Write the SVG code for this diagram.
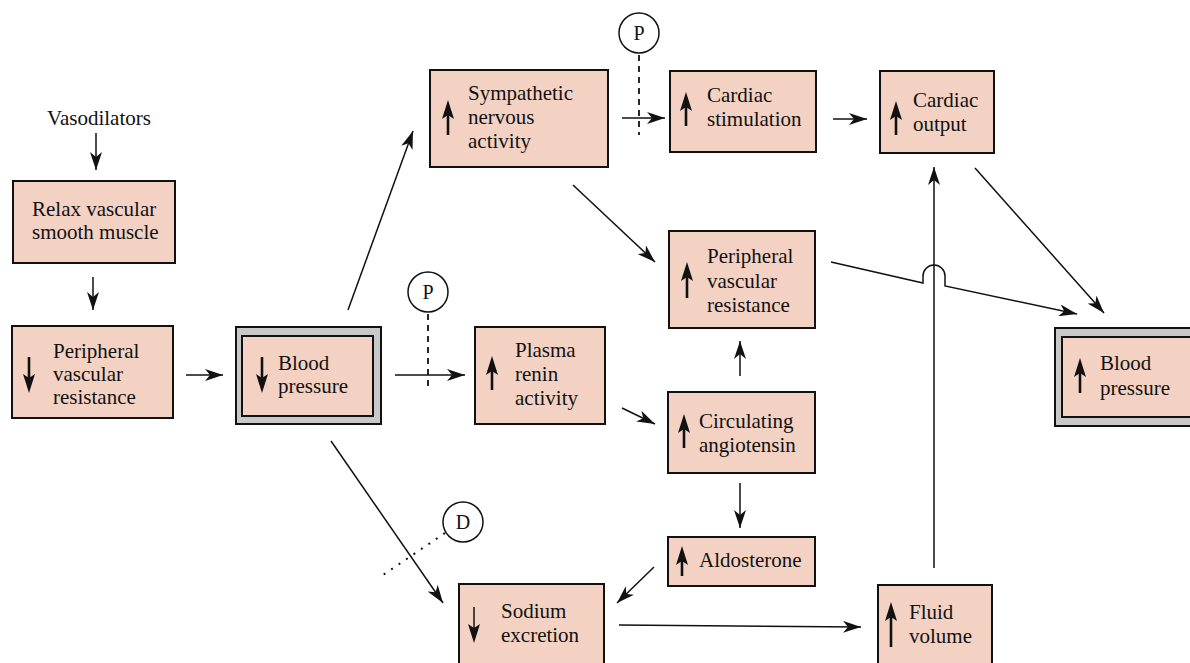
<svg xmlns="http://www.w3.org/2000/svg" width="1190" height="663" viewBox="0 0 1190 663" font-family="'Liberation Serif', 'DejaVu Serif', serif">
<style>
text{font-family:'Liberation Serif','DejaVu Serif',serif;font-size:21px;fill:#111}
.box{fill:#f3d2c4;stroke:#111;stroke-width:2}
.gray{fill:#c8c8c8;stroke:#111;stroke-width:2}
.con{fill:none;stroke:#111;stroke-width:1.5}
.ind{fill:none;stroke:#111;stroke-width:2.6}
.indh{fill:#111;stroke:none}
.circ{fill:#fff;stroke:#111;stroke-width:1.5}
.dash{fill:none;stroke:#111;stroke-width:1.8;stroke-dasharray:6,5}
.dot{fill:none;stroke:#111;stroke-width:2;stroke-dasharray:2,7}
.lbl{text-anchor:middle;font-size:20px}
</style>
<defs>
<marker id="ah" markerWidth="20" markerHeight="12" refX="18" refY="6" orient="auto" markerUnits="userSpaceOnUse">
<path d="M0,0 L18,6 L0,12 L5,6 z" fill="#111"/>
</marker>
</defs>
<rect width="1190" height="663" fill="#fff"/>

<g id="vasodilators"><text x="99" y="125" text-anchor="middle">Vasodilators</text></g>

<g id="relax">
<rect class="box" x="13" y="181" width="162" height="82"/>
<text x="32" y="216">Relax vascular</text>
<text x="32" y="239">smooth muscle</text>
</g>

<g id="pvr-left">
<rect class="box" x="12" y="326" width="161" height="92"/>
<path class="ind" d="M29,357 V378"/><path class="indh" d="M29,393 l-6,-19 l6,4 l6,-4 z"/>
<text x="53" y="358">Peripheral</text>
<text x="53" y="381">vascular</text>
<text x="53" y="404">resistance</text>
</g>

<g id="bp-left">
<rect class="gray" x="236" y="327" width="145" height="97"/>
<rect class="box" x="242" y="336" width="131" height="80"/>
<path class="ind" d="M262,357 V378"/><path class="indh" d="M262,393 l-6,-19 l6,4 l6,-4 z"/>
<text x="278" y="370">Blood</text>
<text x="278" y="393">pressure</text>
</g>

<g id="sympathetic">
<rect class="box" x="430" y="70" width="178" height="97"/>
<path class="ind" d="M448,135 V114"/><path class="indh" d="M448,100 l-6,19 l6,-4 l6,4 z"/>
<text x="468" y="100">Sympathetic</text>
<text x="468" y="124">nervous</text>
<text x="468" y="148">activity</text>
</g>

<g id="cardiac-stimulation">
<rect class="box" x="670" y="71" width="146" height="81"/>
<path class="ind" d="M686,126 V106"/><path class="indh" d="M686,92 l-6,19 l6,-4 l6,4 z"/>
<text x="707" y="102">Cardiac</text>
<text x="707" y="126">stimulation</text>
</g>

<g id="cardiac-output">
<rect class="box" x="880" y="71" width="114" height="82"/>
<path class="ind" d="M896,135 V115"/><path class="indh" d="M896,101 l-6,19 l6,-4 l6,4 z"/>
<text x="913" y="107">Cardiac</text>
<text x="913" y="131">output</text>
</g>

<g id="pvr-right">
<rect class="box" x="669" y="231" width="146" height="97"/>
<path class="ind" d="M687,298 V276"/><path class="indh" d="M687,262 l-6,19 l6,-4 l6,4 z"/>
<text x="707" y="263">Peripheral</text>
<text x="707" y="288">vascular</text>
<text x="707" y="312">resistance</text>
</g>

<g id="plasma-renin">
<rect class="box" x="475" y="327" width="130" height="97"/>
<path class="ind" d="M492,390 V370"/><path class="indh" d="M492,356 l-6,19 l6,-4 l6,4 z"/>
<text x="515" y="357">Plasma</text>
<text x="515" y="381">renin</text>
<text x="515" y="405">activity</text>
</g>

<g id="angiotensin">
<rect class="box" x="668" y="392" width="147" height="81"/>
<path class="ind" d="M684,448 V428"/><path class="indh" d="M684,414 l-6,19 l6,-4 l6,4 z"/>
<text x="699" y="428">Circulating</text>
<text x="699" y="452">angiotensin</text>
</g>

<g id="aldosterone">
<rect class="box" x="668" y="537" width="147" height="49"/>
<path class="ind" d="M682,576 V560"/><path class="indh" d="M682,546 l-6,19 l6,-4 l6,4 z"/>
<text x="699" y="567">Aldosterone</text>
</g>

<g id="sodium">
<rect class="box" x="459" y="584" width="145" height="90"/>
<path class="con" d="M474,607 V628"/><path class="indh" d="M474,643 l-6,-19 l6,4 l6,-4 z"/>
<text x="501" y="618">Sodium</text>
<text x="501" y="642">excretion</text>
</g>

<g id="fluid">
<rect class="box" x="878" y="585" width="114" height="90"/>
<path class="ind" d="M891,647 V616"/><path class="indh" d="M891,602 l-6,19 l6,-4 l6,4 z"/>
<text x="909" y="619">Fluid</text>
<text x="909" y="643">volume</text>
</g>

<g id="bp-right">
<rect class="gray" x="1055" y="328" width="150" height="98"/>
<rect class="box" x="1062" y="337" width="140" height="80"/>
<path class="ind" d="M1080,393 V372"/><path class="indh" d="M1080,358 l-6,19 l6,-4 l6,4 z"/>
<text x="1100" y="370">Blood</text>
<text x="1100" y="395">pressure</text>
</g>

<g id="modifiers">
<path class="dash" d="M639,55 V135"/>
<circle class="circ" cx="639" cy="33" r="20"/>
<text class="lbl" x="639" y="40">P</text>
<path class="dash" d="M428,314 V390"/>
<circle class="circ" cx="428" cy="292" r="20"/>
<text class="lbl" x="428" y="299">P</text>
<path class="dot" d="M445,533 L380,577"/>
<circle class="circ" cx="463" cy="522" r="20"/>
<text class="lbl" x="463" y="529">D</text>
</g>

<g id="connectors">
<path class="con" marker-end="url(#ah)" d="M96,133 V170"/>
<path class="con" marker-end="url(#ah)" d="M93,277 V310"/>
<path class="con" marker-end="url(#ah)" d="M186,375 H223"/>
<path class="con" marker-end="url(#ah)" d="M348,310 L413,131"/>
<path class="con" marker-end="url(#ah)" d="M395,375 H465"/>
<path class="con" marker-end="url(#ah)" d="M331,441 L443,603"/>
<path class="con" marker-end="url(#ah)" d="M622,118 H665"/>
<path class="con" marker-end="url(#ah)" d="M833,119 H867"/>
<path class="con" marker-end="url(#ah)" d="M573,185 L655,262"/>
<path class="con" marker-end="url(#ah)" d="M831,262 L923,283 V276 A11,11 0 0 1 945,276 V286 L1077,314"/>
<path class="con" marker-end="url(#ah)" d="M975,168 L1104,313"/>
<path class="con" marker-end="url(#ah)" d="M622,408 L655,424"/>
<path class="con" marker-end="url(#ah)" d="M740,376 V341"/>
<path class="con" marker-end="url(#ah)" d="M740,483 V528"/>
<path class="con" marker-end="url(#ah)" d="M654,567 L617,603"/>
<path class="con" marker-end="url(#ah)" d="M619,625 L861,627"/>
<path class="con" marker-end="url(#ah)" d="M934,568 V167"/>
</g>
</svg>
